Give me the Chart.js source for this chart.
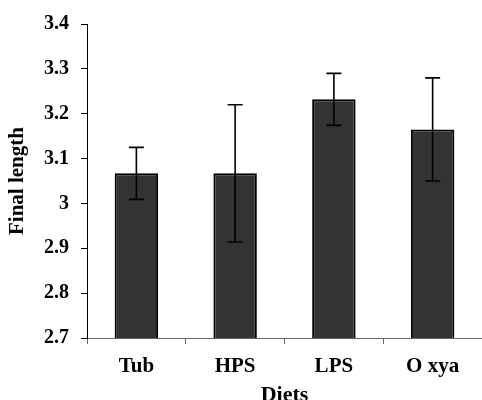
<!DOCTYPE html>
<html>
<head>
<meta charset="utf-8">
<script src="https://cdn.jsdelivr.net/npm/chart.js@4/dist/chart.umd.min.js"></script>
<style>
  html, body { margin: 0; padding: 0; background: #fff; }
  #wrap { width: 482px; height: 400px; }
</style>
</head>
<body>
<div id="wrap"><canvas id="graph_bar" width="482" height="400"></canvas></div>
<script>
'use strict';

// diets and final length (mean, +/- error)
let diets = ['Tub', 'HPS', 'LPS', 'O xya'];
let finalLength = [3.067, 3.067, 3.232, 3.165];
let errors = [0.058, 0.153, 0.058, 0.115];
let yTicks = [2.7, 2.8, 2.9, 3.0, 3.1, 3.2, 3.3, 3.4];

let serif = "'Liberation Serif', 'Times New Roman', serif";

// whisker lines on top of each bar
let errorBars = {
    id: 'errorBars',
    afterDatasetsDraw(chart) {
        let ctx = chart.ctx;
        let y = chart.scales.y;
        let bars = chart.getDatasetMeta(0).data;
        ctx.save();
        ctx.strokeStyle = '#000';
        ctx.lineWidth = 1.6;
        bars.forEach(function (bar, i) {
            let top = y.getPixelForValue(finalLength[i] + errors[i]);
            let bottom = y.getPixelForValue(finalLength[i] - errors[i]);
            ctx.beginPath();
            ctx.moveTo(bar.x, top);
            ctx.lineTo(bar.x, bottom);
            ctx.moveTo(bar.x - 7.5, top);
            ctx.lineTo(bar.x + 7.5, top);
            ctx.moveTo(bar.x - 7.5, bottom);
            ctx.lineTo(bar.x + 7.5, bottom);
            ctx.stroke();
        });
        ctx.restore();
    }
};

window.onload = function () {
    let context_bar = document.querySelector('#graph_bar').getContext('2d');
    new Chart(context_bar, {
        type: 'bar',
        data: {
            labels: diets,
            datasets: [{
                data: finalLength,
                backgroundColor: '#333333',
                borderColor: '#000000',
                borderWidth: 2,
                borderSkipped: false,
                categoryPercentage: 1,
                barPercentage: 0.44
            }]
        },
        options: {
            responsive: false,
            animation: false,
            layout: { padding: { top: 22, right: 0, left: 0, bottom: 0 } },
            plugins: { legend: { display: false }, tooltip: { enabled: false } },
            scales: {
                x: {
                    afterFit: function (s) { s.height = 62; },
                    border: { color: '#666', width: 1 },
                    grid: { drawOnChartArea: false, color: '#666', tickLength: 6, offset: true },
                    ticks: {
                        color: '#000',
                        padding: 10,
                        font: { family: serif, size: 21, weight: 'bold' }
                    },
                    title: {
                        display: true,
                        text: 'Diets',
                        color: '#000',
                        padding: { top: 0, bottom: -9 },
                        font: { family: serif, size: 22, weight: 'bold' }
                    }
                },
                y: {
                    min: 2.7,
                    max: 3.4,
                    afterFit: function (s) { s.width = 87; },
                    afterBuildTicks: function (s) {
                        s.ticks = yTicks.map(function (v) { return { value: v }; });
                    },
                    border: { color: '#000', width: 1 },
                    grid: { drawOnChartArea: false, color: '#000', tickLength: 6 },
                    ticks: {
                        color: '#000',
                        padding: 12,
                        font: { family: serif, size: 20, weight: 'bold' },
                        callback: function (v) { return String(Math.round(v * 10) / 10); }
                    },
                    title: {
                        display: true,
                        text: 'Final length',
                        color: '#000',
                        padding: { top: 5, bottom: 0 },
                        font: { family: serif, size: 21, weight: 'bold' }
                    }
                }
            }
        },
        plugins: [errorBars]
    });
};
</script>
</body>
</html>
